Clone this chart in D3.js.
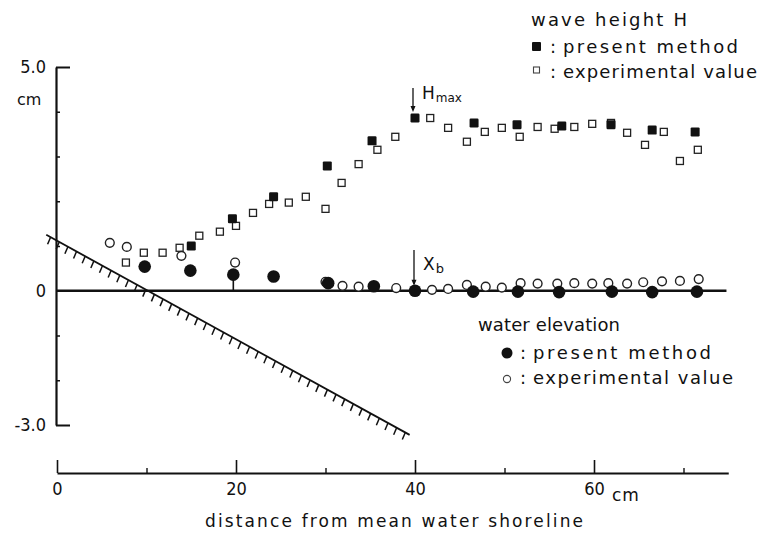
<!DOCTYPE html>
<html>
<head>
<meta charset="utf-8">
<script src="https://cdn.jsdelivr.net/npm/d3@7"></script>
<style>
  html, body { margin: 0; padding: 0; background: #fff; }
  svg { display: block; }
  text { fill: #111; font-family: "DejaVu Sans", sans-serif; }
  .lbl { font-size: 18px; }
  .num { font-family: "DejaVu Sans Condensed", "DejaVu Sans", sans-serif; font-size: 18px; }
</style>
</head>
<body>
<svg id="chart" width="773" height="536"></svg>
<script>
// ---- wave height H (cm) ----
const presentHx = [15, 19.6, 24.2, 30.2, 35.2, 40, 46.6, 51.4, 56.4, 61.9, 66.5, 71.3];
const presentH  = [1.00, 1.61, 2.10, 2.79, 3.35, 3.86, 3.75, 3.71, 3.68, 3.71, 3.59, 3.55];

const expHx = [7.7, 9.7, 11.8, 13.7, 15.9, 18.2, 20.0, 21.9, 23.7, 25.9, 27.8, 30.0, 31.8, 33.7, 35.8, 37.8,
               41.7, 43.7, 45.8, 47.8, 49.7, 51.7, 53.7, 55.6, 57.8, 59.8, 61.9, 63.7, 65.7, 67.8, 69.6, 71.6];
const expH  = [0.63, 0.85, 0.85, 0.96, 1.23, 1.32, 1.45, 1.74, 1.94, 1.97, 2.10, 1.83, 2.41, 2.83, 3.15, 3.44,
               3.86, 3.64, 3.33, 3.55, 3.64, 3.44, 3.66, 3.62, 3.66, 3.73, 3.75, 3.53, 3.26, 3.55, 2.90, 3.15];

// ---- water elevation (cm) ----
const presentEx = [9.8, 14.9, 19.7, 24.2, 30.3, 35.4, 40, 46.5, 51.5, 56.1, 62, 66.5, 71.5];
const presentE  = [0.54, 0.45, 0.36, 0.32, 0.17, 0.10, 0.0, -0.02, -0.02, -0.03, -0.02, -0.03, -0.02];

const expEx = [5.9, 7.8, 13.9, 19.9, 30.0, 31.9, 33.7, 37.9, 41.9, 43.7, 45.8, 47.9, 49.7, 51.8, 53.7, 55.9,
               57.8, 59.8, 61.6, 63.7, 65.5, 67.6, 69.6, 71.7];
const expE  = [1.07, 0.98, 0.78, 0.63, 0.20, 0.11, 0.09, 0.06, 0.02, 0.04, 0.13, 0.09, 0.07, 0.17, 0.16, 0.16,
               0.17, 0.16, 0.17, 0.16, 0.19, 0.21, 0.22, 0.26];

// beach profile (sloping bottom), end points in cm
const beachX = [-1.2, 39.4];
const beachY = [1.25, -3.22];

// axis ticks
const xMajor = [0, 20, 40, 60];
const xMinor = [10, 30, 50, 70];
const yLabelled = [5, 0, -3];
const yLabels = ["5.0", "0", "-3.0"];
const yMinor = [4, 3, 2, 1, -1, -2];

// markers for breaking point and maximum wave height
const xBreak = 40;
const xHmax = 40;

const svg = d3.select("#chart");
const x = d3.scaleLinear().domain([0, 75]).range([57, 728.25]);
const y = d3.scaleLinear().domain([-3, 5]).range([425, 67]);

// ---- vertical axis ----
const yAxisX = 56;
const gy = svg.append("g").attr("transform", `translate(${yAxisX},0)`);
gy.call(d3.axisLeft(y).tickValues(yLabelled).tickSizeInner(-14).tickSizeOuter(0)
      .tickPadding(10).tickFormat((d, i) => yLabels[i]));
gy.select(".domain").attr("stroke", "#111").attr("stroke-width", 2.2);
gy.selectAll(".tick line").attr("stroke", "#111").attr("stroke-width", 2)
  .filter(d => d === 0).remove();
gy.selectAll(".tick text").attr("class", "num").attr("fill", "#111").style("font-size", "18px");
gy.append("g").call(d3.axisLeft(y).tickValues(yMinor).tickSizeInner(-4).tickSizeOuter(0).tickFormat(""))
  .call(g => g.select(".domain").remove())
  .selectAll("line").attr("stroke", "#111").attr("stroke-width", 1.5);
svg.append("text").attr("x", 17).attr("y", 105).style("font-size", "16px").text("cm");

// ---- zero (still water) line ----
svg.append("line")
  .attr("x1", x(0)).attr("x2", x(74.8)).attr("y1", y(0)).attr("y2", y(0))
  .attr("stroke", "#111").attr("stroke-width", 2.6);

// ---- beach slope with hatching ----
const bx0 = x(beachX[0]), by0 = y(beachY[0]), bx1 = x(beachX[1]), by1 = y(beachY[1]);
svg.append("line").attr("x1", bx0).attr("y1", by0).attr("x2", bx1).attr("y2", by1)
  .attr("stroke", "#111").attr("stroke-width", 1.8);
const nHatch = 42;
const hatchT = d3.range(nHatch).map(i => (i + 0.5) / nHatch);
svg.append("g").selectAll("line").data(hatchT).join("line")
  .attr("x1", t => bx0 + (bx1 - bx0) * t)
  .attr("y1", t => by0 + (by1 - by0) * t)
  .attr("x2", t => bx0 + (bx1 - bx0) * t - 3)
  .attr("y2", t => by0 + (by1 - by0) * t + 7)
  .attr("stroke", "#111").attr("stroke-width", 1.5);

// ---- horizontal axis (drawn below the plot) ----
const xAxisY = 473;
const gx = svg.append("g").attr("transform", `translate(0,${xAxisY})`);
gx.call(d3.axisBottom(x).tickValues(xMajor).tickSizeInner(-13).tickSizeOuter(0).tickPadding(9)
      .tickFormat(d3.format("d")));
gx.select(".domain").attr("stroke", "#111").attr("stroke-width", 2.2);
gx.selectAll(".tick line").attr("stroke", "#111").attr("stroke-width", 1.6);
gx.selectAll(".tick text").attr("class", "num").attr("fill", "#111").style("font-size", "18px");
gx.append("g").call(d3.axisBottom(x).tickValues(xMinor).tickSizeInner(-5).tickSizeOuter(0).tickFormat(""))
  .call(g => g.select(".domain").remove())
  .selectAll("line").attr("stroke", "#111").attr("stroke-width", 1.4);
svg.append("text").attr("x", 612).attr("y", 501).style("font-size", "17px").style("letter-spacing", "1px").text("cm");
svg.append("text").attr("class", "lbl").attr("x", 205).attr("y", 527)
  .style("font-size", "17px").attr("textLength", 378).attr("lengthAdjust", "spacing")
  .text("distance from mean water shoreline");

// ---- data marks ----
const sqFilled = 9, sqOpen = 7, rFilled = 6.3, rOpen = 4.4;

// stem under the elevation point near x = 20
svg.append("line").attr("x1", x(presentEx[2])).attr("x2", x(presentEx[2]))
  .attr("y1", y(presentE[2])).attr("y2", y(0)).attr("stroke", "#111").attr("stroke-width", 1.6);

// experimental wave height: open squares
svg.append("g").selectAll("rect").data(expHx).join("rect")
  .attr("x", (d) => x(d) - sqOpen / 2)
  .attr("y", (d, i) => y(expH[i]) - sqOpen / 2)
  .attr("width", sqOpen).attr("height", sqOpen)
  .attr("fill", "#fff").attr("stroke", "#222").attr("stroke-width", 1.3);

// experimental water elevation: open circles
svg.append("g").selectAll("circle").data(expEx).join("circle")
  .attr("cx", d => x(d)).attr("cy", (d, i) => y(expE[i])).attr("r", rOpen)
  .attr("fill", "#fff").attr("stroke", "#222").attr("stroke-width", 1.4);

// present method wave height: filled squares
svg.append("g").selectAll("rect").data(presentHx).join("rect")
  .attr("x", d => x(d) - sqFilled / 2)
  .attr("y", (d, i) => y(presentH[i]) - sqFilled / 2)
  .attr("width", sqFilled).attr("height", sqFilled).attr("rx", 1.2)
  .attr("fill", "#111");

// present method water elevation: filled circles
svg.append("g").selectAll("circle").data(presentEx).join("circle")
  .attr("cx", d => x(d)).attr("cy", (d, i) => y(presentE[i])).attr("r", rFilled)
  .attr("fill", "#111");

// ---- annotations: H_max and X_b arrows ----
function arrow(px, yTop, yTip) {
  svg.append("line").attr("x1", px).attr("x2", px).attr("y1", yTop).attr("y2", yTip - 2)
    .attr("stroke", "#111").attr("stroke-width", 1.3);
  svg.append("path")
    .attr("d", `M${px - 2.5},${yTip - 6} L${px + 2.5},${yTip - 6} L${px},${yTip} Z`)
    .attr("fill", "#111");
}
const hx = x(xHmax) - 2;
arrow(hx, 88, y(presentH[5]) - 6);
const tH = svg.append("text").attr("x", hx + 9).attr("y", 99).style("font-size", "17px");
tH.append("tspan").text("H");
tH.append("tspan").attr("dx", 1).attr("dy", 3).style("font-size", "12px").text("max");

const bxp = x(xBreak) - 1;
arrow(bxp, 250, y(presentE[6]) - 5);
const tX = svg.append("text").attr("x", bxp + 9).attr("y", 270).style("font-size", "17px");
tX.append("tspan").text("X");
tX.append("tspan").attr("dx", 1).attr("dy", 3).style("font-size", "13px").text("b");

// ---- legends ----
function legendText(tx, ty, str, len) {
  svg.append("text").attr("class", "lbl").attr("x", tx).attr("y", ty)
    .attr("textLength", len).attr("lengthAdjust", "spacing").text(str);
}
legendText(531, 26, "wave height H", 156);
svg.append("rect").attr("x", 532).attr("y", 42).attr("width", 9).attr("height", 9).attr("rx", 1).attr("fill", "#111");
svg.append("text").attr("class", "lbl").attr("x", 550).attr("y", 53).text(":");
legendText(563, 53, "present method", 175);
svg.append("rect").attr("x", 533.5).attr("y", 67).attr("width", 6).attr("height", 6)
  .attr("fill", "#fff").attr("stroke", "#444").attr("stroke-width", 1.1);
svg.append("text").attr("class", "lbl").attr("x", 550).attr("y", 78).text(":");
legendText(563, 78, "experimental value", 194);

legendText(478, 331, "water elevation", 142);
svg.append("circle").attr("cx", 507).attr("cy", 353).attr("r", 5.5).attr("fill", "#111");
svg.append("text").attr("class", "lbl").attr("x", 520).attr("y", 359).text(":");
legendText(533, 359, "present method", 178);
svg.append("circle").attr("cx", 507).attr("cy", 379).attr("r", 3.6)
  .attr("fill", "#fff").attr("stroke", "#444").attr("stroke-width", 1.1);
svg.append("text").attr("class", "lbl").attr("x", 520).attr("y", 384).text(":");
legendText(533, 384, "experimental value", 200);
</script>
</body>
</html>
